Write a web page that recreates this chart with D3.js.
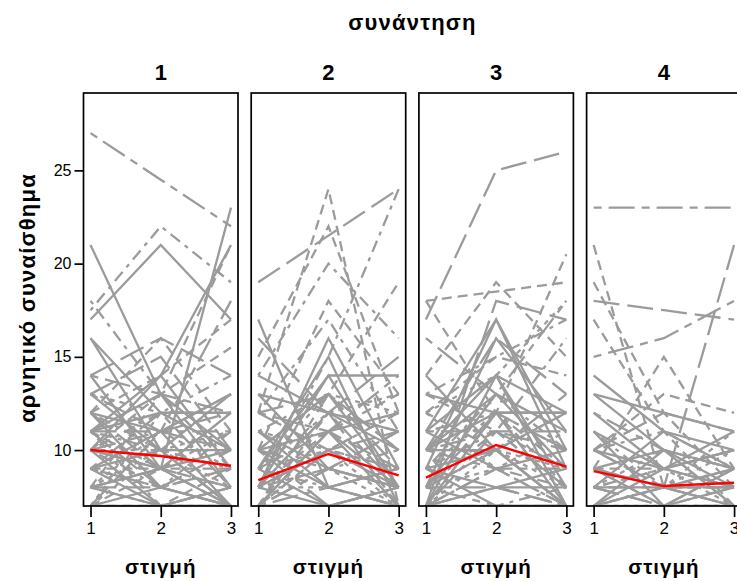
<!DOCTYPE html>
<html>
<head>
<meta charset="utf-8">
<script src="https://cdn.jsdelivr.net/npm/d3@7"></script>
<style>
  body { margin: 0; background: #fff; }
  svg { display: block; }
  text { font-family: "Liberation Sans", Arial, sans-serif; }
</style>
</head>
<body>
<svg id="chart" width="737" height="581"></svg>
<script>
// Facets (meetings), measurement moments and y-axis ticks
const meetings = ["1", "2", "3", "4"];
const moments = [1, 2, 3];
const yTicks = [10, 15, 20, 25];

// Negative affect per participant: [participant, moment 1, moment 2, moment 3]
const meeting1 = [
  [6, 27, 24.5, 22], [8, 21, 13, 8], [2, 17, 21, 17], [4, 17.5, 22, 19], [5, 16, 12, 10],
  [3, 14, 16, 14], [10, 11, 14, 21], [13, 8, 9, 23], [1, 10, 13, 21], [12, 18, 13, 9],
  [11, 13, 15, 10], [9, 12, 14, 17], [14, 9, 11, 18], [7, 13, 12, 12], [16, 11, 12, 12],
  [15, 10, 10, 11], [17, 11, 9, 8], [18, 13, 10, 7], [19, 12, 9, 7], [20, 10, 8, 9],
  [21, 9, 10, 10], [22, 9, 8, 7], [23, 8, 11, 9], [24, 8, 7, 8], [25, 7, 9, 11],
  [26, 7, 8, 7], [27, 10, 11, 13], [28, 12, 10, 9], [29, 11, 13, 10], [30, 9, 12, 8],
  [31, 8, 10, 7], [32, 10, 9, 10], [33, 7, 7, 9], [34, 9, 7, 7], [35, 11, 8, 9],
  [36, 10, 12, 14], [37, 8, 9, 12], [38, 13, 11, 11], [39, 7, 10, 8], [40, 12, 11, 7],
  [41, 9, 9, 9], [42, 10, 7, 8], [43, 8, 8, 10], [44, 11, 10, 7], [45, 9, 11, 13],
  [46, 14, 13, 12], [47, 7, 12, 10], [48, 10, 14, 9], [49, 8, 13, 15.5], [50, 12, 8, 7],
  [51, 11, 11, 10], [52, 9, 8, 11], [53, 7, 7, 7], [54, 10, 9, 8], [55, 8, 7, 7],
  [56, 16, 10, 13], [57, 12, 16, 11], [58, 14, 9, 7], [59, 7, 11, 12], [60, 11, 7, 8]
];
const meeting2 = [
  [3, 19, 21.5, 24], [1, 15, 22, 12], [9, 12, 24, 7], [4, 8, 15, 24], [17, 10, 13, 19],
  [2, 17, 8, 9], [8, 8, 16, 9], [5, 9, 15, 7], [10, 8, 14, 14], [6, 12, 11, 14],
  [13, 10, 13, 8], [7, 9, 12, 13], [16, 7, 11, 12], [11, 12, 10, 11], [12, 11, 13, 10],
  [14, 8, 12, 8], [15, 7, 10, 7], [18, 13, 9, 8], [19, 9, 11, 9], [20, 8, 9, 10],
  [21, 10, 8, 7], [22, 7, 9, 8], [23, 11, 10, 12], [24, 8, 7, 8], [25, 7, 12, 11],
  [26, 9, 14, 8], [27, 12, 13, 9], [28, 8, 10, 12], [29, 10, 11, 7], [30, 7, 8, 7],
  [31, 9, 10, 9], [32, 13, 12, 10], [33, 8, 11, 13], [34, 7, 7, 8], [35, 10, 9, 11],
  [36, 9, 8, 7], [37, 14, 12, 11], [38, 7, 13, 10], [39, 8, 8, 9], [40, 11, 9, 8],
  [41, 7, 10, 9], [42, 9, 7, 7], [43, 8, 12, 7], [44, 12, 17, 11], [49, 10, 18, 13],
  [46, 7, 9, 11], [47, 9, 13, 12], [48, 8, 10, 8], [45, 7, 7, 7], [50, 11, 8, 9],
  [51, 16, 12, 15], [52, 14, 20, 16], [53, 7, 11, 8], [54, 10, 7, 8], [55, 8, 9, 7]
];
const meeting3 = [
  [3, 17, 25, 26], [1, 18, 18.5, 19], [9, 14, 19, 15], [17, 7, 12, 20.5], [25, 18, 12, 8],
  [2, 9, 17, 9], [8, 8, 16, 11], [11, 7, 18, 17], [7, 12, 14, 18], [5, 13, 12, 12],
  [10, 10, 12, 12], [13, 14, 10, 7], [16, 11, 17, 10], [18, 7, 14, 7], [4, 8, 11, 16],
  [6, 12, 10, 13], [12, 9, 13, 10], [14, 10, 11, 11], [15, 8, 10, 8], [19, 7, 9, 7],
  [20, 11, 12, 9], [21, 9, 8, 8], [22, 7, 11, 10], [23, 12, 9, 7], [24, 8, 13, 9],
  [26, 10, 10, 12], [27, 7, 8, 7], [28, 9, 11, 8], [29, 11, 9, 10], [30, 8, 7, 7],
  [31, 7, 10, 9], [32, 10, 13, 11], [33, 13, 11, 8], [34, 9, 10, 7], [35, 8, 12, 10],
  [36, 7, 7, 8], [37, 11, 14, 12], [38, 10, 9, 9], [39, 8, 9, 11], [40, 7, 12, 7],
  [42, 9, 7, 7], [41, 12, 15, 14], [43, 10, 16, 13], [44, 7, 9, 8], [45, 8, 10, 7],
  [46, 11, 11, 9], [47, 9, 12, 10], [48, 7, 8, 9], [50, 10, 14, 8], [51, 8, 8, 7],
  [52, 13, 15, 17], [54, 16, 13, 18], [53, 7, 7, 7], [55, 9, 10, 12]
];
const meeting4 = [
  [6, 23, 23, 23], [1, 21, 8, 9], [9, 19, 12, 8], [3, 18, 17.5, 17], [14, 15, 16, 18],
  [17, 9, 15, 9], [2, 13, 12, 11], [5, 13, 10, 9], [11, 10, 8, 21], [25, 17, 11, 7],
  [8, 11, 9, 11], [10, 10, 9, 10], [13, 8, 11, 10], [16, 7, 8, 9], [4, 9, 7, 8],
  [7, 8, 9, 7], [12, 10, 8, 8], [15, 7, 7, 7], [18, 9, 10, 8], [19, 8, 7, 9],
  [20, 11, 8, 7], [21, 7, 9, 10], [22, 8, 8, 8], [23, 9, 8, 11], [24, 12, 9, 8],
  [26, 7, 10, 7], [27, 8, 7, 7], [28, 10, 11, 9], [29, 9, 8, 7], [30, 7, 8, 8],
  [31, 8, 10, 9], [32, 11, 7, 8], [33, 9, 9, 10], [34, 7, 7, 9], [35, 10, 12, 11],
  [36, 8, 9, 8], [37, 9, 7, 7], [38, 12, 10, 9], [39, 7, 8, 10], [40, 8, 8, 7],
  [41, 10, 13, 12], [42, 14, 11, 9]
];

// Group mean per meeting at moments 1-3
const meanScores = [
  [10.0, 9.68, 9.16],
  [8.39, 9.79, 8.64],
  [8.52, 10.27, 9.11],
  [8.87, 8.07, 8.25]
];

const panelsData = [meeting1, meeting2, meeting3, meeting4];

const svg = d3.select("#chart");
const panelTop = 93, panelBottom = 506;
const firstLeft = 83.5, panelWidth = 154.5, panelStep = 167.7;

const y = d3.scaleLinear().domain([7, 29.15]).range([panelBottom, panelTop]);

// participant -> line type, recycled every eight participants
const linetype = d3.scaleOrdinal()
  .domain(d3.range(8))
  .range([null, "10,6", null, "26,8", "4,6,12,6", null, "8,7,26,7", "5,5"]);

meetings.forEach((m, i) => {
  const left = firstLeft + i * panelStep;
  const x = d3.scaleLinear().domain([0.9, 3.1]).range([left, left + panelWidth]);

  const clipId = "clip" + i;
  svg.append("clipPath").attr("id", clipId)
    .append("rect")
    .attr("x", left).attr("y", panelTop)
    .attr("width", panelWidth).attr("height", panelBottom - panelTop);

  const g = svg.append("g").attr("clip-path", `url(#${clipId})`);
  const line = d3.line().x((v, j) => x(moments[j])).y(v => y(v));

  g.selectAll("path.subject")
    .data(panelsData[i])
    .join("path")
    .attr("class", "subject")
    .attr("d", r => line(r.slice(1)))
    .attr("fill", "none")
    .attr("stroke", "#9b9b9b")
    .attr("stroke-width", 2.3)
    .attr("stroke-dasharray", r => linetype(r[0] % 8));

  g.append("path")
    .attr("d", line(meanScores[i]))
    .attr("fill", "none")
    .attr("stroke", "#ff0000")
    .attr("stroke-width", 2.4);

  svg.append("rect")
    .attr("x", left).attr("y", panelTop)
    .attr("width", panelWidth).attr("height", panelBottom - panelTop)
    .attr("fill", "none").attr("stroke", "#000").attr("stroke-width", 1.7);

  // x axis
  const ax = svg.append("g")
    .attr("transform", `translate(0,${panelBottom})`)
    .call(d3.axisBottom(x).tickValues(moments).tickFormat(d3.format("d")).tickSize(11).tickPadding(5));
  ax.select(".domain").remove();
  ax.selectAll(".tick line").attr("stroke", "#000").attr("stroke-width", 1.7);
  ax.selectAll(".tick text").attr("font-size", 17).attr("fill", "#000")
    .style("font-family", '"Liberation Sans", Arial, sans-serif');

  // facet strip label
  svg.append("text")
    .attr("x", left + panelWidth / 2).attr("y", 80)
    .attr("text-anchor", "middle")
    .attr("font-size", 22).attr("font-weight", "bold")
    .text(m);

  // x axis title
  svg.append("text")
    .attr("x", left + panelWidth / 2).attr("y", 574)
    .attr("text-anchor", "middle")
    .attr("font-size", 20.5).attr("font-weight", "bold")
    .attr("letter-spacing", 1)
    .text("στιγμή");
});

// y axis on the first panel
const ay = svg.append("g")
  .attr("transform", `translate(${firstLeft},0)`)
  .call(d3.axisLeft(y).tickValues(yTicks).tickSize(9).tickPadding(3));
ay.select(".domain").remove();
ay.selectAll(".tick line").attr("stroke", "#000").attr("stroke-width", 1.7);
ay.selectAll(".tick text").attr("font-size", 16).attr("fill", "#000")
  .style("font-family", '"Liberation Sans", Arial, sans-serif');

// facet variable title
svg.append("text")
  .attr("x", 412.5).attr("y", 30)
  .attr("text-anchor", "middle")
  .attr("font-size", 22).attr("font-weight", "bold")
  .attr("letter-spacing", 1.2)
  .text("συνάντηση");

// y axis title
svg.append("text")
  .attr("transform", "translate(35,298) rotate(-90)")
  .attr("text-anchor", "middle")
  .attr("font-size", 22).attr("font-weight", "bold")
  .attr("letter-spacing", 1.2)
  .text("αρνητικό συναίσθημα");
</script>
</body>
</html>
